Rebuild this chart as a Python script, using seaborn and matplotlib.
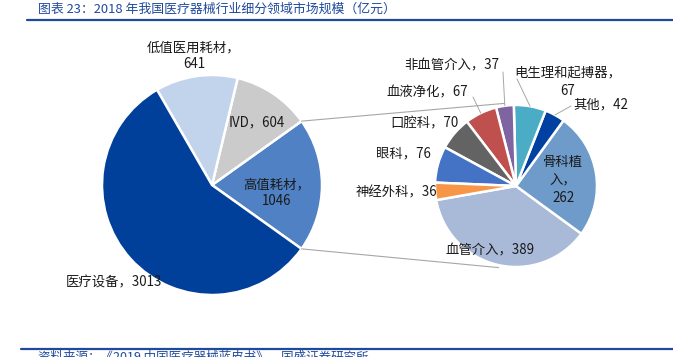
import numpy as np
import matplotlib
matplotlib.use('Agg')
import matplotlib.pyplot as plt
import seaborn as sns
from matplotlib.lines import Line2D
from matplotlib.patches import ConnectionPatch

# left pie: whole market, counter-clockwise from the right
main_labels = ['高值耗材', 'IVD', '低值医用耗材', '医疗设备']
main_values = [1046, 604, 641, 3013]
main_colors = ['#4F81C4', '#CBCBCB', '#C2D4EC', '#01409A']

# right pie: breakdown of 高值耗材, counter-clockwise from lower left
sub_labels = ['血管介入', '骨科植入', '其他', '电生理和起搏器', '非血管介入',
              '血液净化', '口腔科', '眼科', '神经外科']
sub_values = [389, 262, 42, 67, 37, 67, 70, 76, 36]
sub_colors = ['#A9B9D8', '#6F9BCB', '#0040A0', '#4BACC6', '#8064A2',
              '#C0504D', '#636363', '#4472C4', '#F79646']

title = '图表 23：2018 年我国医疗器械行业细分领域市场规模（亿元）'
source = '资料来源：《2019 中国医疗器械蓝皮书》，国盛证券研究所'

W, H = 673, 357
BLUE = '#1F4A9C'
GREY = '#A6A6A6'

# label placement in image pixels (x, y from top) and text templates
main_label_layout = {
    '高值耗材': (277, 193, '{}，\n{}'),
    'IVD': (257, 122, '{}，{}'),
    '低值医用耗材': (194, 56, '{}，\n{}'),
    '医疗设备': (114, 282, '{}，{}'),
}
# (x, y, template, start of leader line or None)
sub_label_layout = {
    '血管介入': (490, 250, '{}，{}', None),
    '骨科植入': (563, 180, '骨科植\n入，\n{1}', None),
    '其他': (601, 104, '{}，{}', (571, 106)),
    '电生理和起搏器': (568, 82, '{}，\n{}', (517, 79)),
    '非血管介入': (452, 65, '{}，{}', (503, 72)),
    '血液净化': (427, 92, '{}，{}', (473, 97)),
    '口腔科': (424, 123, '{}，{}', None),
    '眼科': (403, 153, '{}，{}', None),
    '神经外科': (396, 192, '{}，{}', None),
}


def fig_xy(x, y):
    return x / W, 1 - y / H


def pie_axes(fig, cx, cy, r):
    half = 1.1 * r
    return fig.add_axes([(cx - half) / W, (H - cy - half) / H, 2 * half / W, 2 * half / H])


def main():
    sns.set_theme(style='white')
    plt.rcParams['font.family'] = ['Noto Sans CJK SC', 'DejaVu Sans']

    fig = plt.figure(figsize=(W / 100, H / 100), dpi=100)
    fig.patch.set_facecolor('white')

    ax1 = pie_axes(fig, 212, 185, 110)
    ax2 = pie_axes(fig, 516, 186, 81)

    # left pie, 高值耗材 centred on the right
    start1 = -180 * main_values[0] / sum(main_values)
    ax1.pie(main_values, colors=main_colors, startangle=start1, counterclock=True,
            wedgeprops=dict(edgecolor='white', linewidth=1.8))
    wedges2, _ = ax2.pie(sub_values, colors=sub_colors, startangle=190, counterclock=True,
                         wedgeprops=dict(edgecolor='white', linewidth=1.8))
    for ax in (ax1, ax2):
        ax.set_xlim(-1.1, 1.1)
        ax.set_ylim(-1.1, 1.1)
        ax.set_aspect('equal')
        ax.axis('off')

    fs = 9.6
    for lab, val in zip(main_labels, main_values):
        x, y, tpl = main_label_layout[lab]
        fig.text(*fig_xy(x, y), tpl.format(lab, val), ha='center', va='center',
                 fontsize=fs, color='#1A1A1A', linespacing=1.25)

    for w, lab, val in zip(wedges2, sub_labels, sub_values):
        x, y, tpl, lead = sub_label_layout[lab]
        fig.text(*fig_xy(x, y), tpl.format(lab, val), ha='center', va='center',
                 fontsize=fs, color='#1A1A1A', linespacing=1.4)
        if lead is not None:
            mid = np.deg2rad((w.theta1 + w.theta2) / 2)
            ax2.annotate('', xy=(np.cos(mid), np.sin(mid)), xycoords='data',
                         xytext=fig_xy(*lead), textcoords='figure fraction',
                         arrowprops=dict(arrowstyle='-', color=GREY, lw=0.7,
                                         shrinkA=0, shrinkB=0))

    # connector lines between the 高值耗材 slice and the breakdown pie
    a_top = np.deg2rad(-start1)
    a_bot = np.deg2rad(start1)
    for a1, a2 in ((a_top, np.deg2rad(98)), (a_bot, np.deg2rad(258))):
        con = ConnectionPatch(xyA=(np.cos(a1), np.sin(a1)), coordsA=ax1.transData,
                              xyB=(1.03 * np.cos(a2), 1.03 * np.sin(a2)), coordsB=ax2.transData,
                              color=GREY, lw=0.8)
        fig.add_artist(con)

    # title, rules and source
    fig.text(*fig_xy(38, 9), title, ha='left', va='center', fontsize=9.3,
             color=BLUE, style='italic')
    fig.add_artist(Line2D([27 / W, 1], [1 - 20 / H] * 2, color=BLUE, lw=1.6))
    fig.add_artist(Line2D([21 / W, 1], [1 - 349 / H] * 2, color=BLUE, lw=1.6))
    fig.text(*fig_xy(38, 351), source, ha='left', va='top', fontsize=9,
             color=BLUE, style='italic')

    fig.savefig('out.png', dpi=100, facecolor='white')
    plt.close(fig)


if __name__ == '__main__':
    main()
